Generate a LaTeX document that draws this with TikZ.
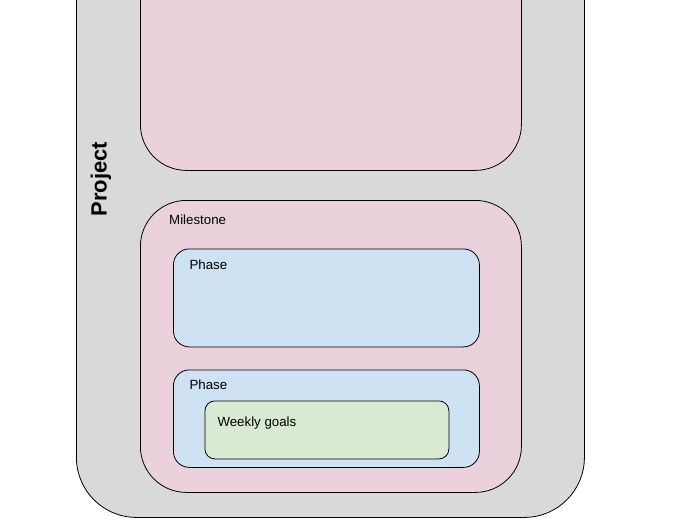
\documentclass[tikz,border=0pt]{standalone}
\usepackage{fontspec}
\setmainfont{Liberation Sans}
\definecolor{gfill}{HTML}{D9D9D9}
\definecolor{pfill}{HTML}{EAD1DC}
\definecolor{bfill}{HTML}{CFE2F3}
\definecolor{wfill}{HTML}{D9EAD3}
\begin{document}
\begin{tikzpicture}[x=1pt,y=-1pt,
  box/.style={draw=black, line width=0.8pt, inner sep=0pt, anchor=north west},
  projbox/.style={box, fill=gfill, rounded corners=60pt},
  milebox/.style={box, fill=pfill, rounded corners=46pt},
  phasebox/.style={box, fill=bfill, rounded corners=16pt},
  weekbox/.style={box, fill=wfill, rounded corners=10pt},
  lbl/.style={anchor=base west, inner sep=0pt, font=\fontsize{13.3}{16}\selectfont},
  plbl/.style={rotate=90, inner sep=0pt, font=\fontsize{22}{26}\selectfont\bfseries}]
\useasboundingbox (0,0) rectangle (700,525);
\clip (0,0) rectangle (700,525);
\node[projbox, minimum width=508pt, minimum height=617pt] (project) at (76,-100) {};
\node[milebox, minimum width=381pt, minimum height=270pt] (mtop) at (140,-100) {};
\node[milebox, minimum width=381pt, minimum height=292pt] (mile) at (140,200) {};
\node[phasebox, minimum width=306pt, minimum height=98pt] (phase1) at (173,248.5) {};
\node[phasebox, minimum width=306pt, minimum height=97.5pt] (phase2) at (173,369.5) {};
\node[weekbox, minimum width=244pt, minimum height=58pt] (week) at (204.5,400.5) {};
\node[plbl] (projectlbl) at (101,179) {Project};
\node[lbl] (milelbl) at (169,224.3) {Milestone};
\node[lbl] (phase1lbl) at (189.3,269) {Phase};
\node[lbl] (phase2lbl) at (189.3,389.3) {Phase};
\node[lbl] (weeklbl) at (217.3,426) {Weekly goals};
\end{tikzpicture}
\end{document}
